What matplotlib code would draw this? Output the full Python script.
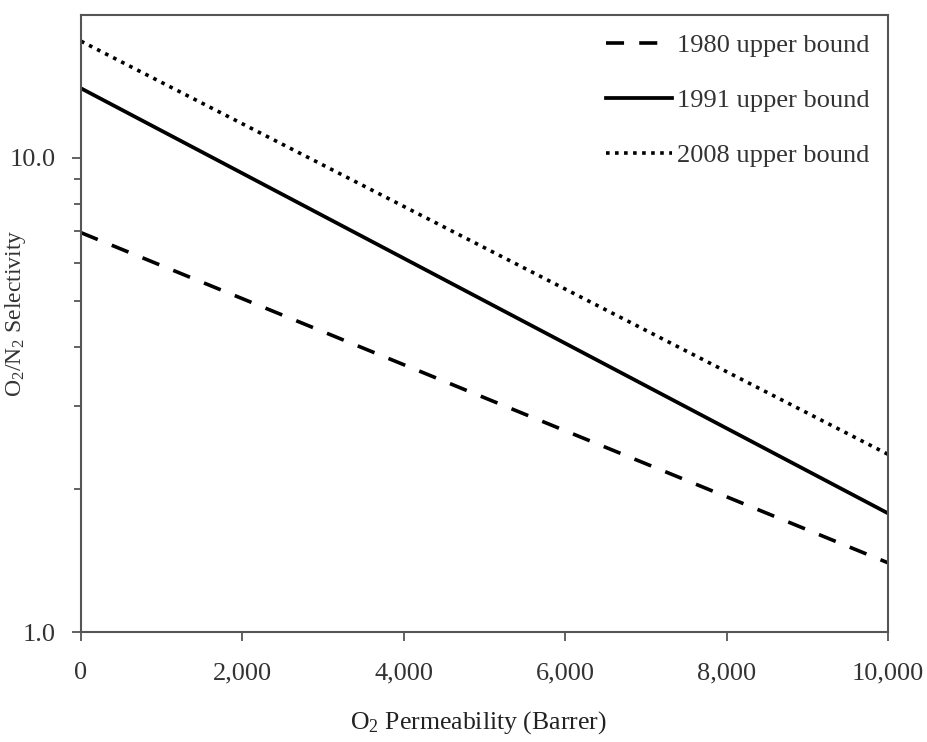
import numpy as np
import matplotlib.pyplot as plt
from matplotlib.ticker import FuncFormatter, FixedLocator, NullFormatter

plt.rcParams['font.family'] = ['Liberation Serif', 'DejaVu Serif']
plt.rcParams['mathtext.fontset'] = 'custom'
plt.rcParams['mathtext.rm'] = 'Liberation Serif'
plt.rcParams['mathtext.it'] = 'Liberation Serif:italic'
plt.rcParams['mathtext.bf'] = 'Liberation Serif:bold'

# O2 permeability (Barrer) at the ends of each bound
permeability = [0, 10000]

# O2/N2 selectivity
sel_1980 = [6.95, 1.40]
sel_1991 = [14.0, 1.78]
sel_2008 = [17.6, 2.37]

labels = ['1980 upper bound', '1991 upper bound', '2008 upper bound']

x_ticks = [0, 2000, 4000, 6000, 8000, 10000]
y_major = [1.0, 10.0]
y_minor = [2, 3, 4, 5, 6, 7, 8, 9]

TEXT = '#333333'
SPINE = '#555555'

fig = plt.figure(figsize=(9.28, 7.42), dpi=100)
ax = fig.add_axes([0.0873, 0.148, 0.8697, 0.832])

ax.plot(permeability, sel_1980, color='black', lw=2.6, dashes=(5, 4.2), label=labels[0])
ax.plot(permeability, sel_1991, color='black', lw=2.7, label=labels[1])
ax.plot(permeability, sel_2008, color='black', lw=2.6, dashes=(1, 1.5), label=labels[2])

ax.set_yscale('log')
ax.set_xlim(0, 10000)
ax.set_ylim(1.0, 20.0)

ax.xaxis.set_major_locator(FixedLocator(x_ticks))
ax.xaxis.set_major_formatter(FuncFormatter(lambda v, p: f'{int(v):,}'))
ax.yaxis.set_major_locator(FixedLocator(y_major))
ax.yaxis.set_major_formatter(FuncFormatter(lambda v, p: f'{v:.1f}'))
ax.yaxis.set_minor_locator(FixedLocator(y_minor))
ax.yaxis.set_minor_formatter(NullFormatter())

ax.tick_params(axis='both', which='major', direction='out', length=6.5, width=1.3,
               color=SPINE, labelsize=19, labelcolor=TEXT)
ax.tick_params(axis='y', which='minor', direction='out', length=5, width=1.3, color=SPINE)
ax.tick_params(axis='x', which='major', pad=15)
ax.tick_params(axis='y', which='major', pad=12)

for s in ax.spines.values():
    s.set_linewidth(1.5)
    s.set_color(SPINE)

ax.set_xlabel(r'O$_2$ Permeability (Barrer)', fontsize=18.5, color='#222222')
ax.set_ylabel(r'O$_2$/N$_2$ Selectivity', fontsize=17, color=TEXT)
ax.xaxis.set_label_coords(0.492, -0.124)
ax.yaxis.set_label_coords(-0.066, 0.517)

ax.legend(loc='upper right', bbox_to_anchor=(1.0, 1.0), frameon=False, fontsize=19,
          labelspacing=1.2, handlelength=2.5, handletextpad=0.2,
          borderaxespad=0.3, labelcolor=TEXT)

fig.savefig('out.png', dpi=100)
